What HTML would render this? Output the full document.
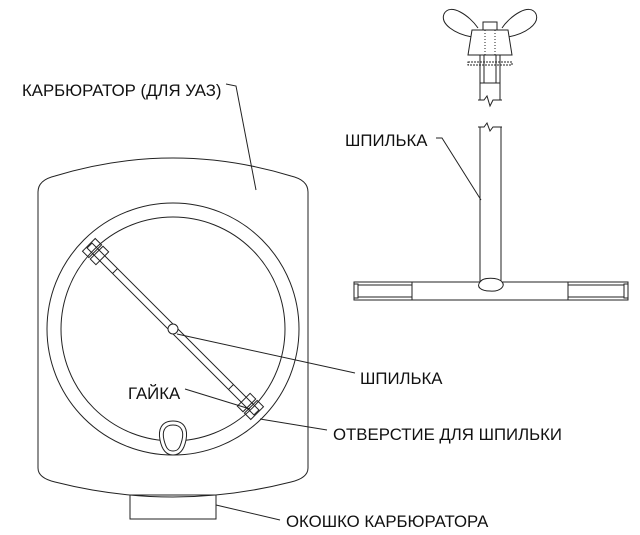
<!DOCTYPE html>
<html><head><meta charset="utf-8"><style>
html,body{margin:0;padding:0;background:#fff;}
svg{display:block}
text{font-family:"Liberation Sans",sans-serif;font-size:16.8px;fill:#111}
</style></head><body>
<svg width="640" height="535" viewBox="0 0 640 535" xmlns="http://www.w3.org/2000/svg" fill="none" stroke="#222" stroke-width="1">
<!-- body -->
<path d="M38,192 Q38,180 55,176 Q173,140 291,176 Q308,180 308,192 L308,468 Q308,478 291,482 Q173,512 55,482 Q38,478 38,468 Z"/>
<rect x="130" y="495" width="86" height="24"/>
<circle cx="173" cy="329" r="126"/>
<circle cx="173" cy="329" r="112"/>
<!-- rod -->
<g transform="translate(173,329) rotate(45)">
<rect x="-118" y="-3.5" width="236" height="7"/>
<line x1="-82" y1="-3.5" x2="-82" y2="3.5"/>
<line x1="82" y1="-3.5" x2="82" y2="3.5"/>
<rect x="-119" y="-9" width="9" height="18"/>
<rect x="-108" y="-9" width="8" height="18"/>
<rect x="100" y="-9" width="8" height="18"/>
<rect x="110" y="-9" width="9" height="18"/>
</g>
<circle cx="173" cy="329" r="5" fill="#fff"/>
<!-- slot -->
<path d="M173,421 C185,421 188,430 186,440 C184,450 180,455 173,455 C166,455 162,450 160,440 C158,430 161,421 173,421 Z" fill="#fff"/>
<path d="M173,425 C182,425 184,432 182,440 C180,448 178,451 173,451 C168,451 166,448 164,440 C162,432 164,425 173,425 Z"/>
<!-- leaders -->
<polyline points="226,84 236,86 256,190"/>
<line x1="177" y1="334" x2="355" y2="373"/>
<line x1="185" y1="389" x2="250" y2="409"/>
<line x1="260" y1="419" x2="327" y2="430"/>
<line x1="216" y1="505" x2="280" y2="520"/>
<text x="22" y="96" stroke="none">КАРБЮРАТОР (ДЛЯ УАЗ)</text>
<text x="360" y="384" stroke="none">ШПИЛЬКА</text>
<text x="128" y="399" stroke="none">ГАЙКА</text>
<text x="333" y="440" stroke="none">ОТВЕРСТИЕ ДЛЯ ШПИЛЬКИ</text>
<text x="286" y="527" stroke="none">ОКОШКО КАРБЮРАТОРА</text>
<!-- right: stud -->
<path d="M472,37 C455,34 440,24 444,14 C450,2 470,16 478,28"/>
<path d="M508,37 C525,34 540,24 536,14 C530,2 510,16 502,28"/>
<polygon points="472,30 508,30 512,55 468,55" fill="#fff"/>
<rect x="483" y="22" width="14" height="8"/>
<line x1="485" y1="30" x2="485" y2="55" stroke-dasharray="1,2"/>
<line x1="495" y1="30" x2="495" y2="55" stroke-dasharray="1,2"/>
<rect x="468" y="62" width="44" height="3" stroke-dasharray="2,1"/>
<line x1="480" y1="55" x2="480" y2="100"/>
<line x1="500" y1="55" x2="500" y2="100"/>
<line x1="484" y1="55" x2="484" y2="83"/>
<line x1="496" y1="55" x2="496" y2="83"/>
<line x1="480" y1="83" x2="500" y2="83"/>
<polyline points="478,100 484,100 487,96 490,106 493,100 502,100"/>
<polyline points="478,127 484,127 487,123 490,131 493,127 502,127"/>
<line x1="480" y1="127" x2="480" y2="282"/>
<line x1="501" y1="127" x2="501" y2="282"/>
<rect x="354" y="282" width="274" height="18"/>
<rect x="354" y="284" width="4" height="14"/>
<rect x="624" y="284" width="4" height="14"/>
<line x1="358" y1="285" x2="412" y2="285"/>
<line x1="358" y1="297" x2="412" y2="297"/>
<line x1="412" y1="282" x2="412" y2="300"/>
<line x1="568" y1="285" x2="624" y2="285"/>
<line x1="568" y1="297" x2="624" y2="297"/>
<line x1="568" y1="282" x2="568" y2="300"/>
<path d="M480,282 C483,277 498,277 502,282 C506,286 500,292 490,291 C481,291 476,287 480,282 Z" fill="#fff"/>
<polyline points="436,138 442,138 481,200"/>
<text x="345" y="146" stroke="none">ШПИЛЬКА</text>
</svg>
</body></html>
